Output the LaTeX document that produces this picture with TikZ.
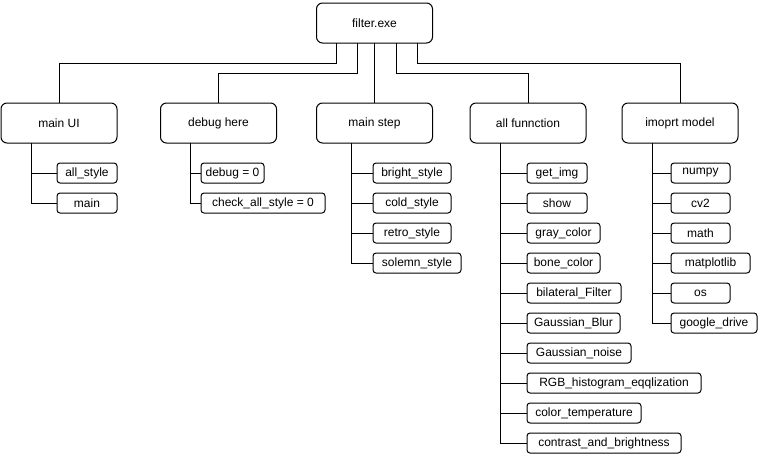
\documentclass[tikz,border=0pt]{standalone}
\usepackage{fontspec}
\setmainfont{Liberation Sans}
\begin{document}
\begin{tikzpicture}[x=1pt,y=-1pt,
  every node/.style={inner sep=0pt,outer sep=0pt,font=\fontsize{12}{14}\selectfont},
  mainbox/.style={draw,line width=1pt,rounded corners=6pt,minimum width=116pt,minimum height=40pt},
  leaf/.style={draw,line width=1pt,rounded corners=3pt,minimum height=20pt},
  wire/.style={line width=1pt}]
\useasboundingbox (0,0) rectangle (761,467);

% top level
\node[mainbox] (root) at (374.5,23) {filter.exe};
\node[mainbox] (ui)   at (59,123)   {main UI};
\node[mainbox] (dbg)  at (218.5,123) {debug here};
\node[mainbox] (step) at (374.5,123) {main step};
\node[mainbox] (fn)   at (528,123)  {all funnction};
\node[mainbox] (imp)  at (680,123)  {imoprt model};

\draw[wire] ([xshift=20pt]root.south west) -- ++(0,20) -| (ui.north);
\draw[wire] ([xshift=41pt]root.south west) -- ++(0,30) -| (dbg.north);
\draw[wire] (root.south) -- (step.north);
\draw[wire] ([xshift=80pt]root.south west) -- ++(0,30) -| (fn.north);
\draw[wire] ([xshift=101pt]root.south west) -- ++(0,20) -| (imp.north);

% leaf boxes: name, left edge, right edge, row, text
\newcommand{\leafbox}[5]{%
  \node[leaf,minimum width={(#3-#2)*1pt}] (#1) at ({(#2+#3)/2},{173+30*#4}) {#5};}

% main UI
\leafbox{allstyle}{57}{117}{0}{all\_style}
\leafbox{mainfn}{57}{117}{1}{main}
\foreach \n in {allstyle,mainfn}
  \draw[wire] ([xshift=30pt]ui.south west) |- (\n.west);

% debug here
\leafbox{dbgzero}{201}{264}{0}{debug = 0}
\leafbox{chkzero}{201}{325}{1}{check\_all\_style = 0}
\foreach \n in {dbgzero,chkzero}
  \draw[wire] ([xshift=30pt]dbg.south west) |- (\n.west);

% main step
\leafbox{bright}{373}{451}{0}{bright\_style}
\leafbox{cold}{373}{451}{1}{cold\_style}
\leafbox{retro}{373}{451}{2}{retro\_style}
\leafbox{solemn}{373}{461}{3}{solemn\_style}
\foreach \n in {bright,cold,retro,solemn}
  \draw[wire] ([xshift=35pt]step.south west) |- (\n.west);

% all funnction
\leafbox{getimg}{527}{587}{0}{get\_img}
\leafbox{show}{527}{587}{1}{show}
\leafbox{gray}{527}{600}{2}{gray\_color}
\leafbox{bone}{527}{600}{3}{bone\_color}
\leafbox{bilat}{527}{621}{4}{bilateral\_Filter}
\leafbox{gblur}{527}{620}{5}{Gaussian\_Blur}
\leafbox{gnoise}{527}{631}{6}{Gaussian\_noise}
\leafbox{rgbhist}{527}{701}{7}{RGB\_histogram\_eqqlization}
\leafbox{ctemp}{527}{641}{8}{color\_temperature}
\leafbox{contr}{527}{681}{9}{contrast\_and\_brightness}
\foreach \n in {getimg,show,gray,bone,bilat,gblur,gnoise,rgbhist,ctemp,contr}
  \draw[wire] ([xshift=30pt]fn.south west) |- (\n.west);

% imoprt model
\leafbox{numpy}{671}{730}{0}{numpy}
\leafbox{cvtwo}{671}{730}{1}{cv2}
\leafbox{math}{671}{730}{2}{math}
\leafbox{mpl}{671}{750}{3}{matplotlib}
\leafbox{os}{671}{730}{4}{os}
\leafbox{gdrive}{671}{757}{5}{google\_drive}
\foreach \n in {numpy,cvtwo,math,mpl,os,gdrive}
  \draw[wire] ([xshift=30pt]imp.south west) |- (\n.west);
\end{tikzpicture}
\end{document}
